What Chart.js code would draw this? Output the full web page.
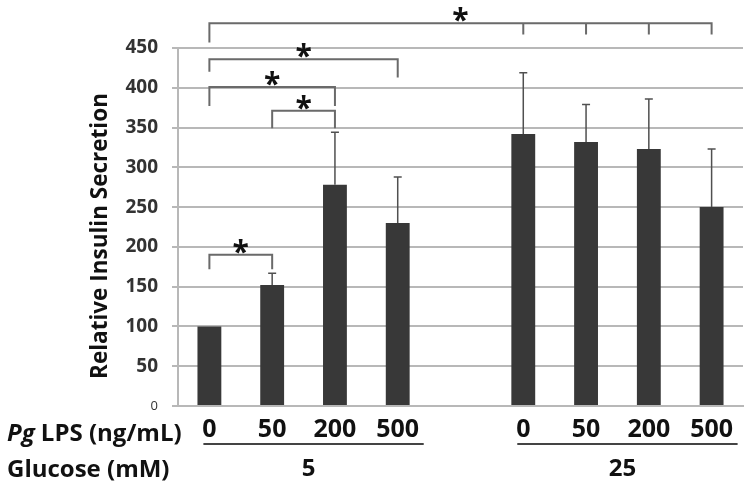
<!DOCTYPE html>
<html>
<head>
<meta charset="utf-8">
<script src="https://cdn.jsdelivr.net/npm/chart.js@4.4.1/dist/chart.umd.min.js"></script>
<style>
  body { margin: 0; background: #fff; }
  canvas { display: block; }
</style>
</head>
<body>
<canvas id="chart" width="750" height="497"></canvas>
<script>
// --- Data ---
const lpsLabels = ['0', '50', '200', '500', '', '0', '50', '200', '500'];
const insulin = [100, 152, 278, 230, null, 342, 332, 323, 250];
const errorTop = [null, 167, 344, 288, null, 419, 379, 386, 323];
const glucoseLabels = ['5', '25'];
const yMax = 450;
const yStep = 50;

// significance brackets (chart units)
const bracketFrom = [0, 0, 0, 1, 0];
const bracketTo = [8, 3, 2, 2, 1];
const bracketLevel = [481, 436, 401, 371, 190];
const bracketLegFrom = [457, 420, 377, 349, 172];
const bracketLegTo = [467, 413, 377, 349, 172];
const bracketInner = [[5, 6, 7], [], [], [], []];

Chart.defaults.font.family = "'Open Sans', sans-serif";

const BAR = '#383838';
const GRID = '#b8b8b8';

// error bars, brackets, y title and the two-row axis caption
const annotations = {
    id: 'annotations',
    afterDatasetsDraw(chart) {
        const { ctx, scales: { x, y } } = chart;
        ctx.save();
        ctx.strokeStyle = '#505050';
        ctx.lineWidth = 1.5;
        errorTop.forEach((v, i) => {
            if (v == null) return;
            const px = x.getPixelForValue(i);
            const top = y.getPixelForValue(v);
            const base = y.getPixelForValue(insulin[i]);
            ctx.beginPath();
            ctx.moveTo(px, base);
            ctx.lineTo(px, top);
            ctx.moveTo(px - 4, top);
            ctx.lineTo(px + 4, top);
            ctx.stroke();
        });
        ctx.restore();
    },
    afterDraw(chart) {
        const { ctx, scales: { x, y } } = chart;
        ctx.save();

        // --- Brackets ---
        ctx.strokeStyle = '#6a6a6a';
        ctx.lineWidth = 2;
        ctx.fillStyle = '#111';
        ctx.font = "bold 30px 'Open Sans'";
        ctx.textAlign = 'center';
        ctx.textBaseline = 'alphabetic';
        bracketFrom.forEach((from, k) => {
            const x1 = x.getPixelForValue(from);
            const x2 = x.getPixelForValue(bracketTo[k]);
            const ly = y.getPixelForValue(bracketLevel[k]);
            ctx.beginPath();
            ctx.moveTo(x1, y.getPixelForValue(bracketLegFrom[k]));
            ctx.lineTo(x1, ly);
            ctx.lineTo(x2, ly);
            ctx.lineTo(x2, y.getPixelForValue(bracketLegTo[k]));
            bracketInner[k].forEach(i => {
                const xi = x.getPixelForValue(i);
                ctx.moveTo(xi, ly);
                ctx.lineTo(xi, y.getPixelForValue(bracketLegTo[k]));
            });
            ctx.stroke();
            ctx.fillText('*', (x1 + x2) / 2, ly + 7);
        });

        // --- Y title ---
        ctx.save();
        ctx.translate(101, 236);
        ctx.rotate(-Math.PI / 2);
        ctx.textBaseline = 'middle';
        ctx.font = "bold 22.5px 'Open Sans'";
        ctx.fillText('Relative Insulin Secretion', 0, 0);
        ctx.restore();

        // --- Bottom caption ---
        const base = chart.chartArea.bottom;
        ctx.fillStyle = '#111';
        ctx.textAlign = 'left';
        ctx.font = "italic bold 24px 'Open Sans'";
        ctx.fillText('Pg', 7, base + 35);
        const pgW = ctx.measureText('Pg ').width;
        ctx.font = "bold 24px 'Open Sans'";
        ctx.fillText('LPS (ng/mL)', 7 + pgW, base + 35);
        ctx.fillText('Glucose (mM)', 7, base + 71);

        // group underlines
        ctx.strokeStyle = '#444';
        ctx.lineWidth = 2;
        [[0, 3], [5, 8]].forEach(([a, b], g) => {
            const xa = x.getPixelForValue(a) - 6;
            const xb = x.getPixelForValue(b) + 26;
            ctx.beginPath();
            ctx.moveTo(xa, base + 38);
            ctx.lineTo(xb, base + 38);
            ctx.stroke();
            ctx.textAlign = 'center';
            const mid = (x.getPixelForValue(a + 1) + x.getPixelForValue(a + 2)) / 2 + 5;
            ctx.fillText(glucoseLabels[g], mid, base + 70);
        });
        ctx.restore();
    }
};

const ctx = document.getElementById('chart').getContext('2d');
new Chart(ctx, {
    type: 'bar',
    data: {
        labels: lpsLabels,
        datasets: [{
            data: insulin,
            backgroundColor: BAR,
            borderWidth: 0,
            barPercentage: 0.38,
            categoryPercentage: 1
        }]
    },
    options: {
        responsive: false,
        animation: false,
        layout: { padding: { left: 84, top: 48, right: 7, bottom: 0 } },
        plugins: {
            legend: { display: false },
            tooltip: { enabled: false }
        },
        scales: {
            x: {
                grid: { display: false, drawTicks: false },
                border: { color: GRID, width: 2 },
                ticks: {
                    color: '#111',
                    font: { size: 25, weight: 'bold' },
                    padding: 9,
                    autoSkip: false,
                    maxRotation: 0
                },
                afterFit: (scale) => { scale.height = 91; }
            },
            y: {
                min: 0,
                max: yMax,
                grid: { color: GRID, lineWidth: 2, tickLength: 6 },
                border: { color: GRID, width: 2 },
                ticks: {
                    stepSize: yStep,
                    color: '#333',
                    padding: 14,
                    font: (c) => (c.tick && c.tick.value === 0)
                        ? { size: 13, weight: 'normal' }
                        : { size: 19, weight: 'bold' }
                },
                afterFit: (scale) => { scale.width = 94; }
            }
        }
    },
    plugins: [annotations]
});
</script>
</body>
</html>
